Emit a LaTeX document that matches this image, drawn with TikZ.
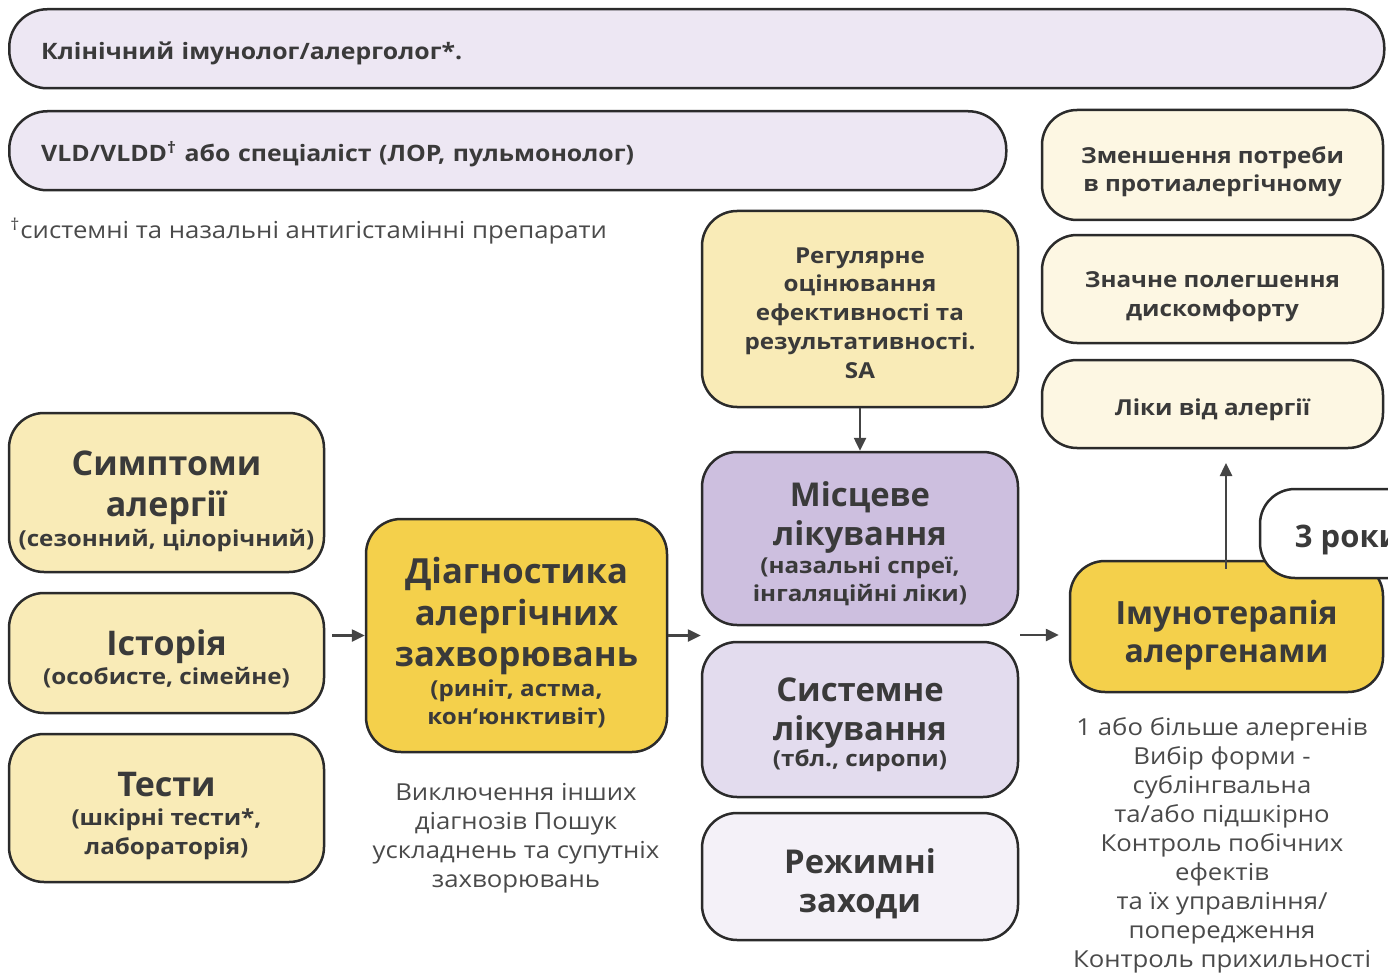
\documentclass[tikz,border=0pt]{standalone}
\usepackage{fontspec}
\setmainfont{Open Sans}
\newfontfamily\wideos{Open Sans}[FakeStretch=1.1]
\usetikzlibrary{arrows.meta}
\definecolor{tx}{HTML}{3A3A3A}
\definecolor{gtx}{HTML}{4A4A4A}
\definecolor{bd}{HTML}{2B2B2B}
\definecolor{ar}{HTML}{444444}
\definecolor{lav}{HTML}{EDE7F3}
\definecolor{ylw}{HTML}{F9EBB7}
\definecolor{crm}{HTML}{FDF7E3}
\definecolor{gold}{HTML}{F4D04B}
\definecolor{pur}{HTML}{CDBFDF}
\definecolor{pur2}{HTML}{E3DCEE}
\definecolor{pur3}{HTML}{F4F1F8}
\newcommand{\fsz}[2]{\fontsize{#1pt}{#2pt}\selectfont}
\newcommand{\subf}{\wideos\bfseries\fontsize{11pt}{14pt}\selectfont}
\newcommand{\tp}[1]{\rule{0pt}{#1pt}}
\begin{document}
\begin{tikzpicture}[x=0.5pt,y=-0.5pt,
  box/.style={draw=bd, line width=1.25pt, rounded corners=17.5pt, inner sep=0pt, align=center, text=tx},
  wide/.style={draw=bd, line width=1.25pt, rounded corners=19pt, inner xsep=16pt, inner ysep=0pt, align=left, text=tx, font=\wideos\bfseries\fsz{11.3}{14}, anchor=north west, minimum height=39.5pt, text depth=0pt},
  plain/.style={inner sep=0pt, align=center, text=gtx, font=\wideos\fsz{11.7}{14.5}},
  arr/.style={draw=ar, line width=1.25pt, -{Triangle[length=6.5pt,width=6pt]}}]
\useasboundingbox (0,0) rectangle (1388,974);
\clip (0,0) rectangle (1388,974);

% top bars
\node[wide, fill=lav, text width=655.5pt] (clin) at (8,8) {\tp{10.3}Клінічний імунолог/алерголог*.};
\node[wide, fill=lav, text width=466.5pt] (vld) at (8,110) {\tp{10.3}VLD/VLDD\textsuperscript{†} або спеціаліст (ЛОР, пульмонолог)};
\node[plain, anchor=west] (foot) at (10,231) {\textsuperscript{†}системні та назальні антигістамінні препарати};

% left column
\node[box, fill=ylw, minimum width=157.5pt, minimum height=79.5pt, font=\bfseries\fsz{17}{20.5}] (sym) at (166.5,492.5)
  {\tp{20.9}Симптоми\\ алергії\\[-5.25pt] \subf(сезонний, цілорічний)};
\node[box, fill=ylw, minimum width=157.5pt, minimum height=60pt, font=\bfseries\fsz{17}{14.25}] (hist) at (166.5,653)
  {\tp{18.9}Історія\\ \subf(особисте, сімейне)};
\node[box, fill=ylw, minimum width=157.5pt, minimum height=74pt, font=\bfseries\fsz{17}{14.75}] (test) at (166.5,808)
  {\tp{20.1}Тести\\ \subf(шкірні тести*,\\[-0.25pt] \subf лабораторія)};

% diagnosis
\node[box, fill=gold, minimum width=150.5pt, minimum height=116.5pt, font=\bfseries\fsz{17.3}{20.75}] (diag) at (516.5,635.5)
  {\tp{20.1}Діагностика\\ алергічних\\ захворювань\\[-6pt] \subf(риніт, астма,\\[-6.75pt] \subf кон‘юнктивіт)};
\node[plain] (excl) at (516,838)
  {Виключення інших\\ діагнозів Пошук\\ ускладнень та супутніх\\ захворювань};

% treatment column
\node[box, fill=ylw, minimum width=158pt, minimum height=98pt, font=\wideos\bfseries\fsz{11}{14.4}] (reg) at (860,309)
  {\tp{11.9}Регулярне\\ оцінювання\\ ефективності та\\ результативності.\\ SA};
\node[box, fill=pur, minimum width=158pt, minimum height=86.5pt, font=\bfseries\fsz{16.4}{19.5}] (loc) at (860,538.5)
  {\tp{17.5}Місцеве\\ лікування\\[-5.75pt] \subf(назальні спреї,\\[-5.5pt] \subf інгаляційні ліки)};
\node[box, fill=pur2, minimum width=158pt, minimum height=77.5pt, font=\bfseries\fsz{16.4}{19.5}] (sys) at (860,719.5)
  {\tp{16.9}Системне\\ лікування\\[-6.25pt] \subf(тбл., сиропи)};
\node[box, fill=pur3, minimum width=158pt, minimum height=63.5pt, font=\bfseries\fsz{16.4}{19.5}] (rez) at (860,876.5)
  {\tp{19.5}Режимні\\ заходи};

% outcomes
\node[box, fill=crm, minimum width=170.5pt, minimum height=55pt, font=\wideos\bfseries\fsz{11}{14}] (red) at (1212.5,165)
  {\tp{15}Зменшення потреби\\ в протиалергічному};
\node[box, fill=crm, minimum width=170.5pt, minimum height=54pt, font=\wideos\bfseries\fsz{11}{14.5}] (rel) at (1212.5,289)
  {\tp{16}Значне полегшення\\ дискомфорту};
\node[box, fill=crm, minimum width=170.5pt, minimum height=44pt, font=\wideos\bfseries\fsz{11}{14}, text depth=0pt] (cure) at (1212.5,404)
  {\tp{11.4}Ліки від алергії};

% immunotherapy
\node[box, fill=gold, minimum width=156.5pt, minimum height=65.5pt, font=\bfseries\fsz{16}{19}] (imm) at (1226.5,626.5)
  {\tp{21.2}Імунотерапія\\ алергенами};
\node[box, fill=white, minimum width=88pt, minimum height=44.5pt, font=\bfseries\fsz{15.5}{18}] (yrs) at (1348,533.5)
  {\tp{18.2}3 роки};
\node[plain] (imtxt) at (1222,845)
  {1 або більше алергенів\\ Вибір форми -\\ сублінгвальна\\ та/або підшкірно\\ Контроль побічних\\ ефектів\\ та їх управління/\\ попередження\\ Контроль прихильності};

% connectors
\coordinate (m1) at (1020,635);
\coordinate (up) at (1226,463);
\draw[arr] ([xshift=3.5pt]hist.east |- diag.west) -- (diag.west);
\draw[arr] (diag.east) -- (loc.west |- diag.east);
\draw[arr] (reg.south) -- (loc.north);
\draw[arr] (m1) -- ([xshift=-5pt]imm.west |- m1);
\draw[arr] ([yshift=-4.5pt]imm.north -| up) -- (up);
\end{tikzpicture}
\end{document}
